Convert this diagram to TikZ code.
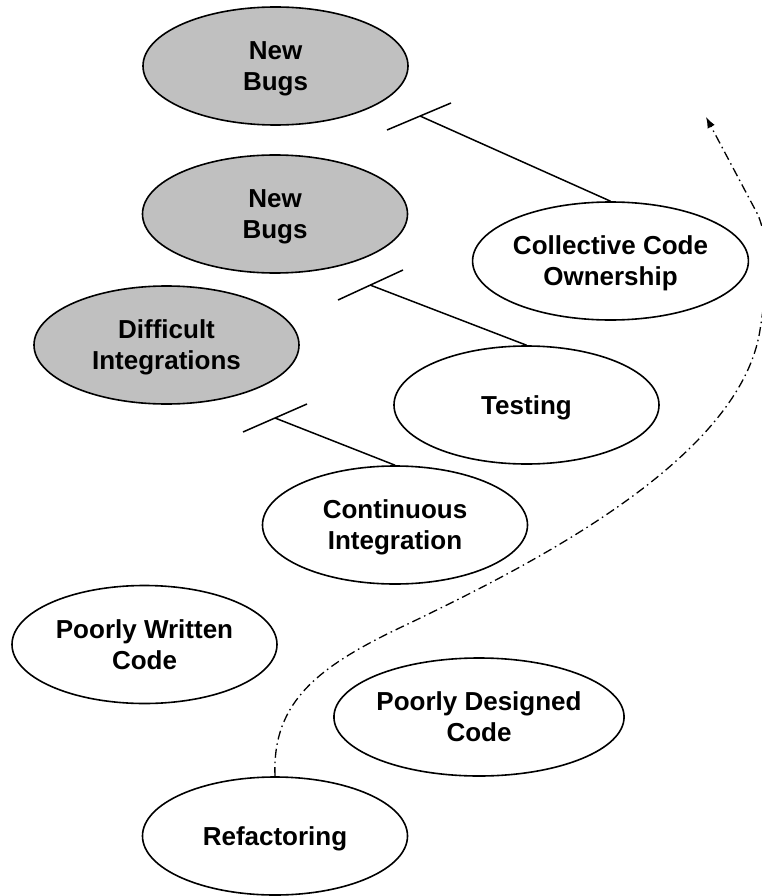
\documentclass[tikz,border=0pt]{standalone}
\usepackage{fontspec}
\setmainfont{Liberation Sans}
\usetikzlibrary{shapes.geometric,arrows.meta}
\definecolor{causegray}{RGB}{192,192,192}
\begin{document}
\begin{tikzpicture}[x=1pt,y=-1pt,
  ell/.style={ellipse, draw, line width=1.6pt, minimum width=265pt, minimum height=118pt,
    inner sep=0pt, align=center, text depth=0pt, font=\fontsize{26}{31}\selectfont\bfseries},
  cause/.style={ell, fill=causegray},
  effect/.style={ell, fill=white},
  link/.style={line width=1.5pt},
  flow/.style={line width=1.3pt, dash pattern=on 9pt off 4pt on 1.5pt off 4pt,
    -{Latex[length=11pt,width=8pt]}}]
\useasboundingbox (0,0) rectangle (761,896);

% problem ellipses (grey)
\node[cause] (nb1) at (275.5,66) {New\\Bugs};
\node[cause] (nb2) at (275,214) {New\\Bugs};
\node[cause] (di) at (166.5,345) {Difficult\\Integrations};

% practice / problem ellipses (white)
\node[effect] (cco) at (610.5,261) {Collective Code\\Ownership};
\node[effect] (tst) at (526.5,405) {Testing};
\node[effect] (ci) at (395,525) {Continuous\\Integration};
\node[effect] (pwc) at (144.5,644.5) {Poorly Written\\Code};
\node[effect] (pdc) at (479,717) {Poorly Designed\\Code};
\node[effect] (ref) at (275,836) {Refactoring};

% inhibitor junctions
\coordinate (jA) at (420,116);
\coordinate (jA1) at (387,130);
\coordinate (jA2) at (451,103);
\coordinate (jB) at (370,285);
\coordinate (jB1) at (338,300);
\coordinate (jB2) at (403,270);
\coordinate (jC) at (275,418);
\coordinate (jC1) at (243,432);
\coordinate (jC2) at (307,404);

\draw[link] (cco.north) -- (jA);
\draw[link] (jA1) -- (jA2);
\draw[link] (tst.north) -- (jB);
\draw[link] (jB1) -- (jB2);
\draw[link] (ci.north) -- (jC);
\draw[link] (jC1) -- (jC2);

% refactoring flow
\coordinate (tip) at (706,117);
\draw[flow] (ref.north) .. controls (272,700) and (320,665) .. (410,623)
  .. controls (530,565) and (740,460) .. (760,330)
  .. controls (768,280) and (770,245) .. (758,215) -- (tip);
\end{tikzpicture}
\end{document}
